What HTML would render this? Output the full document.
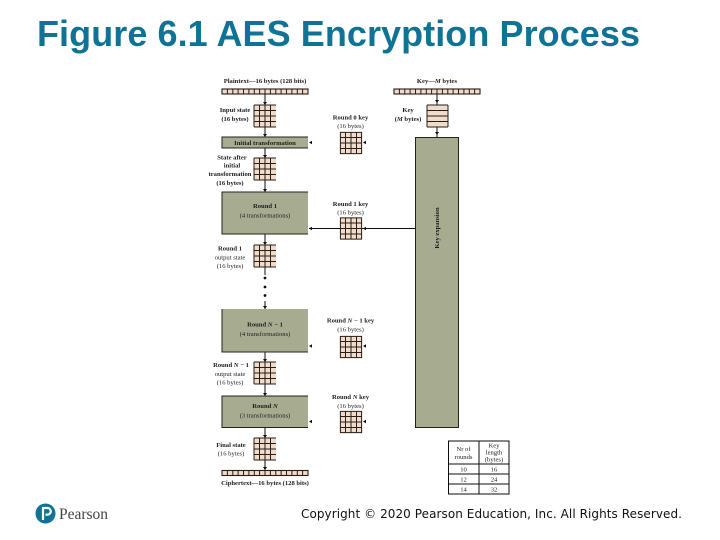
<!DOCTYPE html>
<html>
<head>
<meta charset="utf-8">
<style>
html,body{margin:0;padding:0;background:#fff;width:720px;height:540px;overflow:hidden}
svg{display:block}
.t{font-family:"Liberation Serif",serif;font-size:6.6px;fill:#1f1f1f;text-anchor:middle}
.b{font-weight:bold}
</style>
</head>
<body>
<svg width="720" height="540" viewBox="0 0 720 540" xmlns="http://www.w3.org/2000/svg">
<defs>
<filter id="soft" x="0" y="0" width="100%" height="100%" filterUnits="userSpaceOnUse" primitiveUnits="userSpaceOnUse">
<feGaussianBlur stdDeviation="0.35"/>
</filter>
<g id="grid">
<rect width="22" height="22" fill="#efdccb"/>
<path d="M0 0H22M0 5.500H22M0 11H22M0 16.500H22M0 22H22M0 0V22M5.500 0V22M11 0V22M16.500 0V22" stroke="#2a1a14" stroke-width="1" fill="none"/>
</g>
<g id="kgrid">
<rect width="22" height="22" fill="#efdccb"/>
<path d="M0 .4H22M0 5.500H22M0 11H22M0 16.500H22M0 21.600H22M.4 0V22M5.500 0V22M11 0V22M16.500 0V22M21.600 0V22" stroke="#2a1a14" stroke-width="1" fill="none"/>
</g>
<g id="bar">
<rect x="0" y="0" width="86" height="5" fill="#efdccb" stroke="#2a1a14" stroke-width="1.100"/>
<path d="M5.400 0V5M10.800 0V5M16.100 0V5M21.500 0V5M26.900 0V5M32.300 0V5M37.600 0V5M43 0V5M48.400 0V5M53.800 0V5M59.100 0V5M64.500 0V5M69.900 0V5M75.300 0V5M80.600 0V5" stroke="#2a1a14" stroke-width="1"/>
</g>
<path id="ad" d="M-2 -3H2L0 0Z" fill="#111"/>
<path id="al" d="M0 0L3 -1.800V1.800Z" fill="#111"/>
</defs>

<text x="37" y="46" font-family="'Liberation Sans',sans-serif" font-size="36" font-weight="bold" fill="#0f7396" textLength="603" lengthAdjust="spacing">Figure 6.1 AES Encryption Process</text>

<g filter="url(#soft)">
<!-- vertical connectors -->
<path d="M265 94V105M265 127V137M265 148V158M265 180V192M265 234V245M265 267V275M265 352V362M265 384V396M265 427V438M265 460V470M437 94V105M437 127V137" stroke="#111" stroke-width="1" fill="none"/>
<circle cx="265" cy="278" r="1.400" fill="#111"/><circle cx="265" cy="287" r="1.400" fill="#111"/><circle cx="265" cy="295.500" r="1.400" fill="#111"/>
<path d="M265 301V309" stroke="#111" stroke-width="1"/>

<!-- bars -->
<use href="#bar" x="222" y="89"/>
<use href="#bar" x="394" y="89"/>
<use href="#bar" x="222" y="470.500"/>

<!-- state grids -->
<use href="#grid" x="254" y="105"/>
<use href="#grid" x="254" y="158"/>
<use href="#grid" x="254" y="245"/>
<use href="#grid" x="254" y="362"/>
<use href="#grid" x="254" y="438"/>

<!-- key grid -->
<rect x="427" y="105" width="21" height="22" fill="#efdccb"/>
<path d="M427 105H448M427 110.500H448M427 116H448M427 121.500H448M427 127H448M427 105V127M448 105V127" stroke="#2a1a14" stroke-width="1" fill="none"/>

<!-- round key grids -->
<use href="#kgrid" x="340" y="132"/>
<use href="#kgrid" x="340" y="217.500"/>
<use href="#kgrid" x="340" y="336"/>
<use href="#kgrid" x="340" y="411"/>

<!-- boxes -->
<rect x="222" y="137" width="86" height="11" fill="#a7ac90"/>
<path d="M308 137H222V148H308" stroke="#22221c" stroke-width="1" fill="none"/>
<rect x="222" y="192" width="86" height="42" fill="#a7ac90"/>
<path d="M308 192H222V234H308" stroke="#22221c" stroke-width="1" fill="none"/>
<rect x="222" y="309" width="86" height="43" fill="#a7ac90"/>
<path d="M222 309V352H308" stroke="#22221c" stroke-width="1" fill="none"/>
<rect x="222" y="396" width="86" height="31.500" fill="#a7ac90"/>
<path d="M308 396H222V427.500H308" stroke="#22221c" stroke-width="1" fill="none"/>
<rect x="415.500" y="137.500" width="43" height="290" fill="#a7ac90" stroke="#22221c" stroke-width="1"/>

<!-- horizontal key line -->
<path d="M309 228.500H340M362 228.500H415" stroke="#111" stroke-width="1"/>

<!-- arrowheads down -->
<use href="#ad" x="265" y="105"/><use href="#ad" x="265" y="137"/><use href="#ad" x="265" y="158"/><use href="#ad" x="265" y="192"/><use href="#ad" x="265" y="245"/><use href="#ad" x="265" y="309"/><use href="#ad" x="265" y="362"/><use href="#ad" x="265" y="396"/><use href="#ad" x="265" y="438"/><use href="#ad" x="265" y="470"/><use href="#ad" x="437" y="103"/><use href="#ad" x="437" y="135"/>

<!-- arrowheads left -->
<use href="#al" x="309" y="142.500"/><use href="#al" x="363" y="142.500"/>
<use href="#al" x="309" y="228.500"/><use href="#al" x="363" y="228.500"/>
<use href="#al" x="309" y="346"/><use href="#al" x="363" y="346"/>
<use href="#al" x="309" y="421.500"/><use href="#al" x="363" y="421.500"/>

<!-- labels -->
<text class="t b" x="265" y="83">Plaintext—16 bytes (128 bits)</text>
<text class="t b" x="437" y="83">Key—<tspan font-style="italic">M</tspan> bytes</text>
<text class="t b" x="235" y="112">Input state</text>
<text class="t b" x="235" y="121">(16 bytes)</text>
<text class="t b" x="350.500" y="119.500">Round 0 key</text>
<text class="t" x="350.500" y="128">(16 bytes)</text>
<text class="t b" x="408" y="112">Key</text>
<text class="t b" x="408" y="121">(<tspan font-style="italic">M</tspan> bytes)</text>
<text class="t b" x="265" y="145">Initial transformation</text>
<text class="t b" x="232" y="159.500">State after</text>
<text class="t b" x="232" y="167.500">initial</text>
<text class="t b" x="230" y="176">transformation</text>
<text class="t b" x="230" y="185">(16 bytes)</text>
<text class="t b" x="265" y="208">Round 1</text>
<text class="t" x="265" y="217.500">(4 transformations)</text>
<text class="t b" x="350.500" y="206">Round 1 key</text>
<text class="t" x="350.500" y="214.500">(16 bytes)</text>
<text class="t b" x="230" y="250.500">Round 1</text>
<text class="t" x="230" y="259.500">output state</text>
<text class="t" x="230" y="268">(16 bytes)</text>
<text class="t b" x="265" y="326.500">Round <tspan font-style="italic">N</tspan> − 1</text>
<text class="t" x="265" y="336">(4 transformations)</text>
<text class="t b" x="350.500" y="322.500">Round <tspan font-style="italic">N</tspan> − 1 key</text>
<text class="t" x="350.500" y="331.500">(16 bytes)</text>
<text class="t b" x="231" y="367">Round <tspan font-style="italic">N</tspan> − 1</text>
<text class="t" x="230" y="376">output state</text>
<text class="t" x="230" y="384.500">(16 bytes)</text>
<text class="t b" x="265" y="408">Round <tspan font-style="italic">N</tspan></text>
<text class="t" x="265" y="417.500">(3 transformations)</text>
<text class="t b" x="350.500" y="399">Round <tspan font-style="italic">N</tspan> key</text>
<text class="t" x="350.500" y="408">(16 bytes)</text>
<text class="t b" x="231" y="447">Final state</text>
<text class="t" x="231" y="455.500">(16 bytes)</text>
<text class="t b" x="265" y="485">Ciphertext—16 bytes (128 bits)</text>
<text class="t b" transform="translate(439 228) rotate(-90)">Key expansion</text>

<!-- table -->
<rect x="448.500" y="441" width="60.500" height="53" fill="#fff" stroke="#111" stroke-width="1"/>
<path d="M479 441V494M448.500 464H509M448.500 474H509M448.500 484H509" stroke="#111" stroke-width="1"/>
<text class="t" x="463.500" y="451">Nr of</text>
<text class="t" x="463.500" y="459">rounds</text>
<text class="t" x="494" y="447.500">Key</text>
<text class="t" x="494" y="454.500">length</text>
<text class="t" x="494" y="461.500" font-size="5.500">(bytes)</text>
<text class="t" x="463.500" y="471.500">10</text><text class="t" x="494" y="471.500">16</text>
<text class="t" x="463.500" y="481.500">12</text><text class="t" x="494" y="481.500">24</text>
<text class="t" x="463.500" y="491.500">14</text><text class="t" x="494" y="491.500">32</text>
</g>

<!-- Pearson logo -->
<circle cx="45.500" cy="513.500" r="10" fill="#0f7396"/>
<path d="M43 520V508H47.500A3.300 3.300 0 0 1 47.500 514.600H45.500" fill="none" stroke="#fff" stroke-width="2.200"/>
<text x="59" y="519" font-family="'Liberation Serif',serif" font-size="15.500" fill="#444" textLength="49" lengthAdjust="spacingAndGlyphs">Pearson</text>

<text x="301" y="518" font-family="'DejaVu Sans',sans-serif" font-size="12" fill="#111" textLength="381" lengthAdjust="spacing">Copyright © 2020 Pearson Education, Inc. All Rights Reserved.</text>
</svg>
</body>
</html>
